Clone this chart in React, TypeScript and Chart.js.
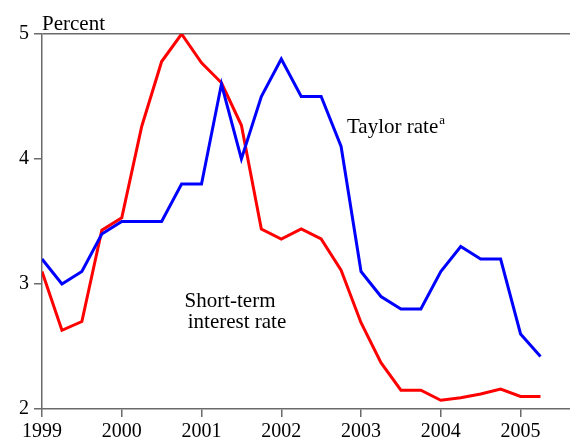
import React, { useEffect, useRef } from "react";
import { Chart, registerables } from "chart.js";

Chart.register(...registerables);

const quarters = [
  1999, 1999.25, 1999.5, 1999.75,
  2000, 2000.25, 2000.5, 2000.75,
  2001, 2001.25, 2001.5, 2001.75,
  2002, 2002.25, 2002.5, 2002.75,
  2003, 2003.25, 2003.5, 2003.75,
  2004, 2004.25, 2004.5, 2004.75,
  2005, 2005.25,
];

const taylorRate = [
  3.2, 3.0, 3.1, 3.4,
  3.5, 3.5, 3.5, 3.8,
  3.8, 4.6, 4.0, 4.5,
  4.8, 4.5, 4.5, 4.1,
  3.1, 2.9, 2.8, 2.8,
  3.1, 3.3, 3.2, 3.2,
  2.6, 2.42,
];

const shortTermRate = [
  3.1, 2.63, 2.7, 3.43,
  3.53, 4.26, 4.78, 5.0,
  4.77, 4.61, 4.27, 3.44,
  3.36, 3.44, 3.36, 3.11,
  2.69, 2.37, 2.15, 2.15,
  2.07, 2.09, 2.12, 2.16,
  2.1, 2.1,
];

const yearTicks = [1999, 2000, 2001, 2002, 2003, 2004, 2005];
const yTicks = [2, 3, 4, 5];

const FONT = "'Liberation Serif', 'Times New Roman', serif";
const AXIS = "#6a6a6a";

const labelsPlugin = {
  id: "labelsPlugin",
  afterDraw(chart: any) {
    const ctx = chart.ctx;
    const area = chart.chartArea;
    ctx.save();
    ctx.fillStyle = "#000";
    ctx.textBaseline = "alphabetic";
    ctx.font = `21px ${FONT}`;
    ctx.textAlign = "left";
    ctx.fillText("Percent", area.left, area.top - 4);
    ctx.fillText("Taylor rate", 347, 133);
    const w = ctx.measureText("Taylor rate").width;
    ctx.font = `13px ${FONT}`;
    ctx.fillText("a", 347 + w + 1, 124);
    ctx.font = `21px ${FONT}`;
    ctx.textAlign = "center";
    ctx.fillText("Short-term", 230, 307);
    ctx.fillText("interest rate", 237, 328);
    ctx.restore();
  },
};

export default function App() {
  const ref = useRef<HTMLCanvasElement>(null);
  useEffect(() => {
    if (!ref.current) return;
    const chart = new Chart(ref.current, {
      type: "line",
      data: {
        datasets: [
          {
            label: "Taylor rate",
            data: quarters.map((q, i) => ({ x: q, y: taylorRate[i] })),
            borderColor: "#0000ff",
            borderWidth: 3,
            pointRadius: 0,
            tension: 0,
            fill: false,
          },
          {
            label: "Short-term interest rate",
            data: quarters.map((q, i) => ({ x: q, y: shortTermRate[i] })),
            borderColor: "#ff0000",
            borderWidth: 3,
            pointRadius: 0,
            tension: 0,
            fill: false,
          },
        ],
      },
      options: {
        responsive: false,
        animation: false,
        layout: { padding: { top: 34, right: 0, left: 0, bottom: 0 } },
        plugins: {
          legend: { display: false },
          tooltip: { enabled: false },
        },
        scales: {
          x: {
            type: "linear",
            min: 1999,
            max: 2005.62,
            afterBuildTicks: (scale: any) => {
              scale.ticks = yearTicks.map((v) => ({ value: v }));
            },
            afterFit: (scale: any) => {
              scale.height = 33;
            },
            grid: {
              display: true,
              drawOnChartArea: false,
              drawTicks: true,
              tickLength: 8,
              color: AXIS,
              tickColor: AXIS,
              lineWidth: 1.5,
            },
            border: { display: true, color: AXIS, width: 1.5 },
            ticks: {
              color: "#000",
              font: { family: FONT, size: 20 },
              padding: 3,
              maxRotation: 0,
              autoSkip: false,
              callback: (v: any) => String(v),
            },
          },
          y: {
            type: "linear",
            min: 2,
            max: 5,
            afterBuildTicks: (scale: any) => {
              scale.ticks = yTicks.map((v) => ({ value: v }));
            },
            afterFit: (scale: any) => {
              scale.width = 42;
            },
            grid: {
              display: true,
              drawOnChartArea: true,
              drawTicks: true,
              tickLength: 8,
              color: (ctx: any) => (ctx.tick && ctx.tick.value === 5 ? AXIS : "rgba(0,0,0,0)"),
              tickColor: AXIS,
              lineWidth: 1.5,
            },
            border: { display: true, color: AXIS, width: 1.5 },
            ticks: {
              color: "#000",
              font: { family: FONT, size: 20 },
              padding: 5,
              callback: (v: any) => String(v),
            },
          },
        },
      },
      plugins: [labelsPlugin],
    });
    return () => chart.destroy();
  }, []);
  return (
    <div style={{ position: "fixed", left: 0, top: 0, width: 570, height: 442, background: "#fff" }}>
      <canvas ref={ref} width={570} height={442} style={{ width: 570, height: 442, display: "block" }} />
    </div>
  );
}
